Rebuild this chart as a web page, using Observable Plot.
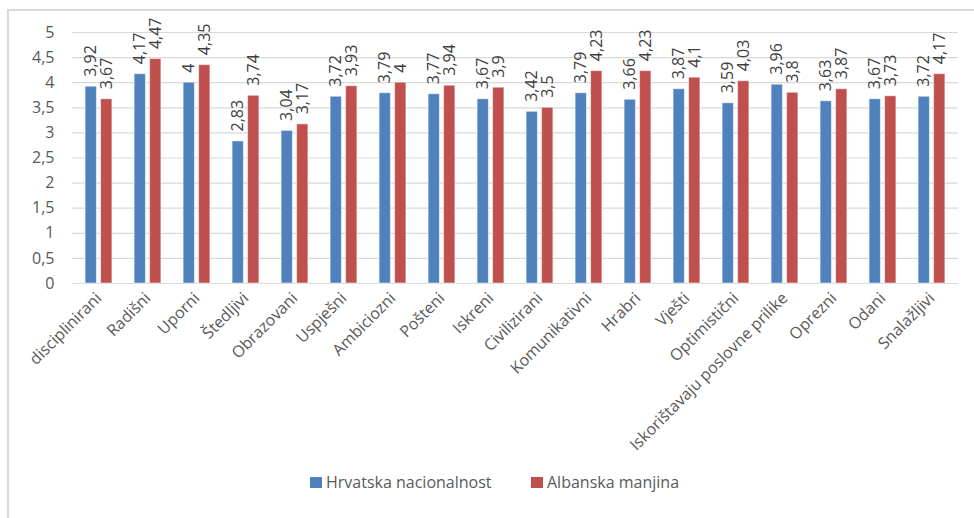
<!DOCTYPE html>
<html>
<head>
<meta charset="utf-8">
<script src="https://cdn.jsdelivr.net/npm/d3@7"></script>
<script src="https://cdn.jsdelivr.net/npm/@observablehq/plot@0.6"></script>
<style>
  html, body { margin: 0; padding: 0; background: #fff; }
  body { width: 974px; height: 518px; position: relative; overflow: hidden; font-family: "Open Sans", Lato, sans-serif; }
  #frame { position: absolute; left: 7px; top: 9px; width: 1100px; height: 1100px; border-left: 2px solid #d9d9d9; border-top: 2px solid #d9d9d9; }
  #chart { position: absolute; left: 0; top: 0; }
  #legend { position: absolute; left: 310px; top: 482px; display: flex; align-items: center; font-size: 16px; color: #595959; }
  .item { display: flex; align-items: center; }
  .sw { width: 12px; height: 11px; margin-right: 4px; display: inline-block; }
</style>
</head>
<body>
<div id="frame"></div>
<div id="chart"></div>
<div id="legend"></div>
<script>
const categories = ["disciplinirani", "Radišni", "Uporni", "Štedljivi", "Obrazovani", "Uspješni", "Ambiciozni", "Pošteni", "Iskreni", "Civilizirani", "Komunikativni", "Hrabri", "Vješti", "Optimistični", "Iskorištavaju poslovne prilike", "Oprezni", "Odani", "Snalažljivi"];
const hrvatska = [3.92, 4.17, 4, 2.83, 3.04, 3.72, 3.79, 3.77, 3.67, 3.42, 3.79, 3.66, 3.87, 3.59, 3.96, 3.63, 3.67, 3.72];
const albanska = [3.67, 4.47, 4.35, 3.74, 3.17, 3.93, 4, 3.94, 3.9, 3.5, 4.23, 4.23, 4.1, 4.03, 3.8, 3.87, 3.73, 4.17];
const seriesNames = ["Hrvatska nacionalnost", "Albanska manjina"];
const seriesColors = ["#4F81BD", "#C0504D"];
const yTicks = [0, 0.5, 1, 1.5, 2, 2.5, 3, 3.5, 4, 4.5, 5];

const fmt = v => String(v).replace(".", ",");
const rowsH = categories.map((c, i) => ({category: c, value: hrvatska[i]}));
const rowsA = categories.map((c, i) => ({category: c, value: albanska[i]}));

const barW = 11.5, half = 7.75;
const step = (958 - 72) / categories.length;
const inset = (step - barW) / 2;

const chart = Plot.plot({
  width: 974,
  height: 470,
  marginLeft: 72,
  marginRight: 16,
  marginTop: 32,
  marginBottom: 187,
  style: {fontFamily: "'Open Sans', Lato, sans-serif", fontSize: "16px", color: "#595959", background: "transparent", overflow: "visible"},
  x: {domain: categories, padding: 0},
  y: {domain: [0, 5]},
  marks: [
    Plot.ruleY(yTicks, {stroke: "#d9d9d9", strokeWidth: 1.2}),
    Plot.axisY({ticks: yTicks, tickFormat: fmt, tickSize: 0, tickPadding: 18, label: null, fontSize: 16}),
    Plot.axisX({tickRotate: -45, tickSize: 0, tickPadding: 12, label: null, fontSize: 16}),
    Plot.barY(rowsH, {x: "category", y: "value", fill: seriesColors[0], stroke: "white", strokeOpacity: 0.5, strokeWidth: 1, insetLeft: inset, insetRight: inset, dx: -half}),
    Plot.barY(rowsA, {x: "category", y: "value", fill: seriesColors[1], stroke: "white", strokeOpacity: 0.5, strokeWidth: 1, insetLeft: inset, insetRight: inset, dx: half}),
    Plot.text(rowsH, {x: "category", y: "value", text: d => fmt(d.value), rotate: -90, textAnchor: "start", lineAnchor: "middle", dx: -half, dy: -10, fill: "#404040", fontSize: 16}),
    Plot.text(rowsA, {x: "category", y: "value", text: d => fmt(d.value), rotate: -90, textAnchor: "start", lineAnchor: "middle", dx: half, dy: -10, fill: "#404040", fontSize: 16})
  ]
});
document.getElementById("chart").appendChild(chart);

const legend = document.getElementById("legend");
const legendLeft = [0, 221];
seriesNames.forEach((name, i) => {
  const item = document.createElement("div");
  item.className = "item";
  item.style.position = "absolute";
  item.style.left = legendLeft[i] + "px";
  item.style.whiteSpace = "nowrap";
  const sw = document.createElement("span");
  sw.className = "sw";
  sw.style.background = seriesColors[i];
  const label = document.createElement("span");
  label.textContent = name;
  item.appendChild(sw);
  item.appendChild(label);
  legend.appendChild(item);
});
</script>
</body>
</html>
